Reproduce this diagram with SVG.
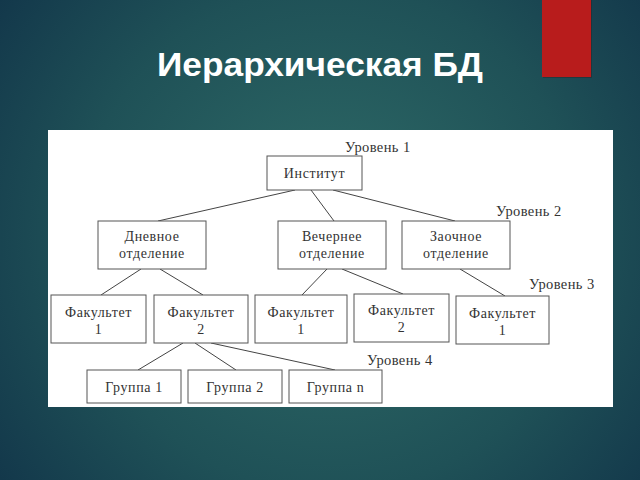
<svg xmlns="http://www.w3.org/2000/svg" width="640" height="480" viewBox="0 0 640 480">
<defs>
<radialGradient id="bg" cx="330" cy="240" r="420" gradientUnits="userSpaceOnUse">
<stop offset="0" stop-color="#2f6c68"/>
<stop offset="0.6" stop-color="#1f5157"/>
<stop offset="1" stop-color="#12364a"/>
</radialGradient>
<style>
.box{fill:#fff;stroke:#555;stroke-width:1}
.t{font-family:'Liberation Serif','DejaVu Serif',serif;font-size:14px;fill:#333;text-anchor:middle;letter-spacing:0.6px}
.lv{font-family:'Liberation Serif','DejaVu Serif',serif;font-size:14.5px;fill:#333;letter-spacing:0.4px}
.c line{stroke:#444;stroke-width:1}
</style>
</defs>
<rect width="640" height="480" fill="url(#bg)"/>
<rect x="543" y="0" width="49" height="78" fill="#2a1a1a" opacity="0.35"/>
<rect x="542" y="0" width="49" height="77" fill="#b81c1c"/>
<text x="320" y="76" text-anchor="middle" font-family="'Liberation Sans',Arial,sans-serif" font-weight="bold" font-size="33" fill="#fff" textLength="326" lengthAdjust="spacingAndGlyphs">Иерархическая БД</text>
<rect x="48" y="130" width="565" height="277" fill="#fff"/>
<g class="c" id="connectors">
<line x1="295" y1="190" x2="158" y2="221"/>
<line x1="311" y1="190" x2="334" y2="221"/>
<line x1="333" y1="190" x2="455" y2="221"/>
<line x1="141" y1="269" x2="101" y2="295"/>
<line x1="160" y1="269" x2="203" y2="295"/>
<line x1="327" y1="269" x2="302" y2="295"/>
<line x1="342" y1="269" x2="403" y2="294"/>
<line x1="460" y1="269" x2="505" y2="296"/>
<line x1="183" y1="343" x2="138" y2="370"/>
<line x1="195" y1="343" x2="236" y2="370"/>
<line x1="211" y1="343" x2="335" y2="370"/>
</g>
<g id="institut"><rect class="box" x="267" y="156" width="95" height="34"/><text class="t" x="314.5" y="178">Институт</text></g>
<g id="day"><rect class="box" x="98" y="221" width="108" height="48"/><text class="t" x="152" y="241">Дневное</text><text class="t" x="152" y="258">отделение</text></g>
<g id="evening"><rect class="box" x="278" y="221" width="108" height="48"/><text class="t" x="332" y="241">Вечернее</text><text class="t" x="332" y="258">отделение</text></g>
<g id="extramural"><rect class="box" x="402" y="221" width="108" height="48"/><text class="t" x="456" y="241">Заочное</text><text class="t" x="456" y="258">отделение</text></g>
<g id="f1a"><rect class="box" x="51" y="295" width="95" height="48"/><text class="t" x="98.5" y="317">Факультет</text><text class="t" x="98.5" y="334">1</text></g>
<g id="f2a"><rect class="box" x="154" y="295" width="94" height="48"/><text class="t" x="201" y="317">Факультет</text><text class="t" x="201" y="334">2</text></g>
<g id="f1b"><rect class="box" x="255" y="295" width="92" height="48"/><text class="t" x="301" y="317">Факультет</text><text class="t" x="301" y="334">1</text></g>
<g id="f2b"><rect class="box" x="354" y="294" width="95" height="48"/><text class="t" x="401.5" y="315">Факультет</text><text class="t" x="401.5" y="332">2</text></g>
<g id="f1c"><rect class="box" x="456" y="296" width="93" height="48"/><text class="t" x="502.5" y="318">Факультет</text><text class="t" x="502.5" y="335">1</text></g>
<g id="g1"><rect class="box" x="87" y="370" width="94" height="33"/><text class="t" x="134" y="392">Группа 1</text></g>
<g id="g2"><rect class="box" x="188" y="370" width="94" height="33"/><text class="t" x="235" y="392">Группа 2</text></g>
<g id="gn"><rect class="box" x="289" y="370" width="93" height="33"/><text class="t" x="335.5" y="392">Группа n</text></g>
<g id="levels">
<text class="lv" x="345" y="152">Уровень 1</text>
<text class="lv" x="496" y="216">Уровень 2</text>
<text class="lv" x="529" y="289">Уровень 3</text>
<text class="lv" x="367" y="365">Уровень 4</text>
</g>
</svg>
